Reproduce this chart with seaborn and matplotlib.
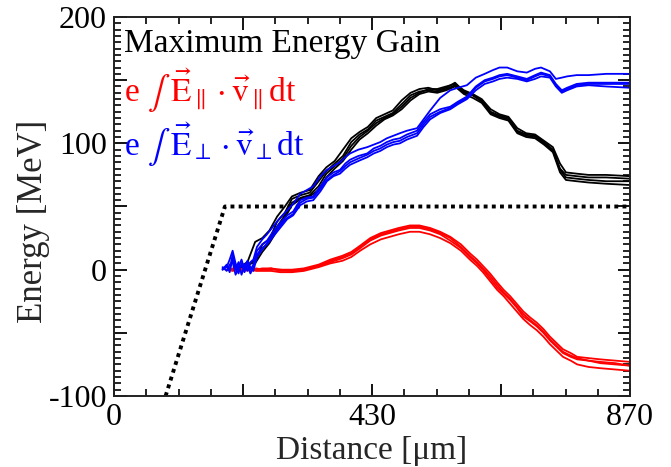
import numpy as np
import pandas as pd
import matplotlib
matplotlib.use("Agg")
import matplotlib.pyplot as plt
from matplotlib.ticker import MultipleLocator, FixedLocator
import seaborn as sns

# ---------------- data ----------------
# dotted reference line
dot_x = [87, 187, 870]
dot_y = [-100, 50, 50]

# black curves (total energy gain)
xb = [212, 225, 238, 250, 262, 275, 288, 300, 315, 330, 345, 358, 372, 386, 400, 414, 428, 442, 456, 470,
      485, 500, 515, 530, 545, 560, 575, 590, 605, 620, 635, 650, 665, 680, 695, 710, 725, 740, 752, 762,
      780, 800, 830, 870]
b1 = [2, 4, 6, 20, 24, 38, 45, 56, 59, 61, 70, 78, 84, 90, 101, 107, 111, 118, 121, 124,
      131, 138, 141, 142, 141, 143, 146, 140, 138, 134, 125, 122, 120, 110, 107, 106, 101, 95, 80, 75,
      74, 73, 73, 72]
b2 = [1, 3, 8, 17, 22, 34, 43, 53, 57, 59, 66, 76, 82, 88, 98, 105, 110, 116, 120, 123,
      129, 136, 140, 143, 143, 145, 147, 142, 139, 135, 127, 123, 121, 112, 108, 107, 102, 97, 84, 77,
      76, 75, 75, 74]
b3 = [3, 5, 5, 14, 21, 31, 41, 51, 56, 58, 63, 73, 80, 86, 95, 103, 108, 114, 119, 122,
      127, 134, 139, 141, 140, 142, 145, 139, 136, 132, 123, 120, 118, 108, 105, 104, 99, 93, 77, 71,
      70, 69, 68, 67]
b4 = [2, 6, 22, 25, 31, 42, 50, 58, 61, 63, 74, 81, 86, 95, 104, 109, 113, 120, 123, 126,
      134, 140, 143, 144, 142, 144, 148, 141, 138, 133, 124, 121, 119, 109, 106, 105, 100, 94, 79, 73,
      72, 71, 70, 70]

# blue curves (perpendicular field work)
xbl = [183, 190, 195, 200, 205, 210, 215, 220, 225, 230, 235, 241, 250, 258, 268, 280, 292, 302, 314, 325,
       336, 348, 359, 370, 381, 390, 398, 412, 427, 438, 449, 460, 471, 482, 494, 511, 522, 533, 550, 567,
       580, 595, 610, 625, 639, 650, 663, 680, 696, 710, 720, 735, 745, 755, 764, 780, 800, 830, 870]
bl1 = [1, 3, 0, 12, 2, -3, 5, -2, 6, 0, 4, 15, 20, 23, 30, 37, 43, 46, 55, 57,
       58, 66, 73, 77, 79, 84, 87, 90, 92, 96, 98, 101, 103, 104, 107, 110, 117, 123, 127, 129,
       133, 137, 145, 150, 152, 154, 155, 153, 151, 154, 156, 154, 147, 142, 144, 147, 148, 148, 148]
bl2 = [0, 2, 8, 15, 5, 0, 3, 4, -1, 6, 8, 18, 24, 28, 34, 41, 47, 52, 60, 63,
       66, 74, 79, 82, 85, 89, 92, 95, 97, 99, 101, 104, 106, 108, 110, 112, 119, 126, 136, 142,
       144, 146, 152, 155, 158, 160, 160, 157, 156, 159, 160, 157, 151, 152, 153, 154, 154, 155, 155]
bl3 = [2, -1, 4, 6, -4, 2, 8, 0, 3, -3, 2, 12, 17, 20, 26, 33, 40, 43, 51, 54,
       55, 62, 70, 74, 76, 80, 83, 86, 89, 92, 94, 97, 99, 100, 103, 106, 113, 119, 124, 127,
       131, 135, 142, 147, 149, 151, 152, 151, 149, 151, 153, 152, 145, 140, 142, 145, 146, 145, 144]
bl4 = [0, 4, -2, 9, 0, 6, -4, 3, 7, 2, -1, 10, 16, 21, 27, 35, 41, 44, 53, 56,
       57, 64, 71, 75, 78, 82, 85, 88, 91, 94, 96, 99, 101, 102, 105, 108, 115, 121, 125, 128,
       132, 136, 144, 149, 151, 153, 154, 152, 150, 153, 155, 153, 146, 141, 143, 146, 147, 147, 147]

# red curves (parallel field work)
xr = [191, 200, 210, 220, 230, 240, 250, 265, 280, 300, 320, 345, 365, 385, 400, 415, 432, 450, 465, 480,
      499, 515, 533, 550, 567, 585, 600, 612, 622, 634, 646, 657, 668, 679, 690, 702, 713, 724, 735, 746,
      757, 770, 781, 800, 820, 845, 870]
r1 = [0, 1, -1, 1, 0, 1, 0, 0, 0, -1, 0, 3, 6, 9, 12, 17, 23, 27, 29, 31,
      33, 33, 31, 28, 23, 17, 10, 5, 0, -7, -14, -19, -24, -30, -37, -41, -45, -50, -56, -61,
      -66, -69, -71, -72, -73, -74, -76]
r2 = [0, 0, 1, 0, 1, 0, 1, 1, 0, 0, 1, 4, 8, 11, 14, 19, 25, 29, 31, 33,
      35, 35, 33, 30, 26, 20, 13, 8, 3, -3, -10, -16, -21, -27, -33, -38, -42, -47, -53, -58,
      -63, -66, -69, -70, -71, -72, -73]
r3 = [0, -1, 0, -1, 0, -1, -1, -1, -2, -2, -1, 2, 5, 7, 10, 15, 20, 24, 26, 28,
      30, 30, 28, 25, 21, 15, 8, 3, -2, -9, -16, -21, -27, -33, -39, -44, -48, -53, -59, -64,
      -69, -72, -75, -77, -78, -79, -80]
r4 = [0, 0, 0, 1, -1, 0, 0, 1, -1, -1, 0, 3, 7, 10, 13, 18, 24, 28, 30, 32,
      34, 34, 32, 29, 25, 18, 11, 6, 1, -5, -12, -18, -23, -29, -35, -40, -44, -49, -55, -60,
      -65, -68, -70, -72, -74, -75, -76]

x_ticks = [0, 217.5, 435, 652.5, 870]
x_ticklabels = ["0", "", "430", "", "870"]
x_minor = [54.375, 108.75, 163.125, 271.875, 326.25, 380.625, 489.375, 543.75, 598.125,
           706.875, 761.25, 815.625]
y_ticks = [-100, -50, 0, 50, 100, 150, 200]
y_ticklabels = ["-100", "", "0", "", "100", "", "200"]

title_text = "Maximum Energy Gain"
red_text = r"e $\int\ \vec{\mathrm{E}}_{\parallel}\cdot\vec{\mathrm{v}}_{\parallel}$dt"
blue_text = r"e $\int\ \vec{\mathrm{E}}_{\perp}\cdot\vec{\mathrm{v}}_{\perp}$dt"

# ---------------- style ----------------
sns.set_style("ticks", {"xtick.direction": "in", "ytick.direction": "in"})
plt.rcParams["font.family"] = ["Liberation Serif", "DejaVu Serif"]
plt.rcParams["mathtext.fontset"] = "stix"
plt.rcParams["axes.unicode_minus"] = False

fig = plt.figure(figsize=(6.71, 4.67), dpi=100)
ax = fig.add_axes([114 / 671, 71 / 467, 516 / 671, 379 / 467])


def make_df(x, ys, name):
    frames = []
    for i, y in enumerate(ys):
        frames.append(pd.DataFrame({"x": x, "y": y, "line": f"{name}{i}"}))
    return pd.concat(frames, ignore_index=True)


df_dot = pd.DataFrame({"x": dot_x, "y": dot_y})
sns.lineplot(data=df_dot, x="x", y="y", ax=ax, color="black", lw=2.8,
             linestyle=(0, (1, 1.1)), sort=False, estimator=None)

df_b = make_df(xb, [b1, b2, b3, b4], "b")
df_r = make_df(xr, [r1, r2, r3, r4], "r")
df_bl = make_df(xbl, [bl1, bl2, bl3, bl4], "bl")

for df, col in [(df_b, "black"), (df_r, "#ff0000"), (df_bl, "#0000ff")]:
    sns.lineplot(data=df, x="x", y="y", units="line", estimator=None, sort=False,
                 ax=ax, color=col, lw=1.3)

ax.set_xlim(0, 870)
ax.set_ylim(-100, 200)
ax.xaxis.set_major_locator(FixedLocator(x_ticks))
ax.yaxis.set_major_locator(FixedLocator(y_ticks))
ax.xaxis.set_minor_locator(FixedLocator(x_minor))
ax.yaxis.set_minor_locator(MultipleLocator(5))
ax.set_xticklabels(x_ticklabels)
ax.set_yticklabels(y_ticklabels)
ax.tick_params(axis="both", which="minor", direction="in", bottom=True, left=True,
               top=True, right=True, width=1.2, colors="black", length=5)
ax.tick_params(axis="both", which="major", direction="in", bottom=True, left=True,
               top=True, right=True, width=1.3, colors="black", length=9,
               pad=5, labelsize=23)
for s in ax.spines.values():
    s.set_linewidth(1.4)
    s.set_color("#222222")

ax.set_xlabel("Distance [μm]", fontsize=24)
ax.set_ylabel("Energy [MeV]", fontsize=25)
ax.xaxis.set_label_coords(0.5, -0.105)
ax.yaxis.set_label_coords(-0.124, 0.46)

ax.text(0.019, 0.9077, title_text, transform=ax.transAxes, fontsize=24,
        color="black", va="baseline", ha="left")
ax.text(0.019, 0.7757, red_text, transform=ax.transAxes, fontsize=24,
        color="#ff0000", va="baseline", ha="left")
ax.text(0.019, 0.6332, blue_text, transform=ax.transAxes, fontsize=24,
        color="#0000ff", va="baseline", ha="left")

fig.savefig("out.png", dpi=100)
